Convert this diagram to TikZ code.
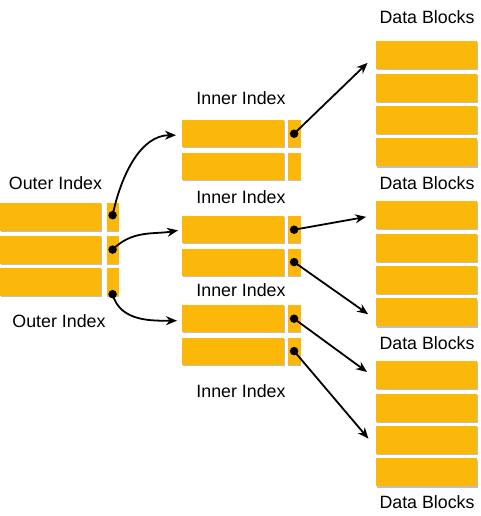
\documentclass[tikz,border=0pt]{standalone}
\usepackage{fontspec}
\setmainfont{Liberation Sans}
\usetikzlibrary{arrows.meta, positioning, shadows}
\definecolor{slotyellow}{RGB}{251,184,10}

\begin{document}
\begin{tikzpicture}[x=1pt, y=1pt, >={Stealth[length=11pt,width=9pt]}]
    \tikzstyle{slot} = [fill=slotyellow, inner sep=0pt,
	drop shadow={shadow xshift=0.8pt, shadow yshift=-1.2pt, fill=black, opacity=0.25}]
    \tikzstyle{oentry} = [slot, minimum width=101pt, minimum height=28pt]
    \tikzstyle{optr} = [slot, minimum width=12pt, minimum height=28pt]
    \tikzstyle{ientry} = [slot, minimum width=102pt, minimum height=27pt]
    \tikzstyle{iptr} = [slot, minimum width=13pt, minimum height=27pt]
    \tikzstyle{block} = [slot, minimum width=101pt, minimum height=28pt]
    \tikzstyle{caption} = [font=\fontsize{17.8}{20}\selectfont, inner sep=0pt]
    \tikzstyle{ptrdot} = [circle, fill=black, minimum size=8.5pt, inner sep=0pt]
    \tikzstyle{link} = [->, line width=1.8pt]

    \useasboundingbox (0,0) rectangle (480,516);

		% outer index
		\path
			node[oentry, anchor=north west] (o1) at (0,313) {}
			node[oentry, below=4pt of o1] (o2) {}
			node[oentry, below=4pt of o2] (o3) {}
			node[optr, right=5pt of o1] (o1p) {}
			node[optr, right=5pt of o2] (o2p) {}
			node[optr, right=5pt of o3] (o3p) {}
			node[caption] (outtop) at (55.5,333) {Outer Index}
			node[caption] (outbot) at (59,195) {Outer Index}
		;

		% inner index
		\path
			node[ientry, anchor=north west] (i1a) at (182,396) {}
			node[ientry, below=5pt of i1a] (i1b) {}
			node[iptr, right=3pt of i1a] (i1ap) {}
			node[iptr, right=3pt of i1b] (i1bp) {}
			node[ientry, anchor=north west] (i2a) at (182,300) {}
			node[ientry, below=5pt of i2a] (i2b) {}
			node[iptr, right=3pt of i2a] (i2ap) {}
			node[iptr, right=3pt of i2b] (i2bp) {}
			node[ientry, anchor=north west] (i3a) at (182,211) {}
			node[ientry, below=5pt of i3a] (i3b) {}
			node[iptr, right=3pt of i3a] (i3ap) {}
			node[iptr, right=3pt of i3b] (i3bp) {}
			node[caption] (in1) at (241,418) {Inner Index}
			node[caption] (in2) at (241,319) {Inner Index}
			node[caption] (in3) at (241,226) {Inner Index}
			node[caption] (in4) at (241,125) {Inner Index}
		;

		% data blocks
		\path
			node[block, anchor=north west] (d11) at (375.5,475) {}
			node[block, below=4pt of d11] (d12) {}
			node[block, below=4pt of d12] (d13) {}
			node[block, below=4pt of d13] (d14) {}
			node[block, anchor=north west] (d21) at (375.5,315) {}
			node[block, below=4pt of d21] (d22) {}
			node[block, below=4pt of d22] (d23) {}
			node[block, below=4pt of d23] (d24) {}
			node[block, anchor=north west] (d31) at (375.5,155) {}
			node[block, below=4pt of d31] (d32) {}
			node[block, below=4pt of d32] (d33) {}
			node[block, below=4pt of d33] (d34) {}
			node[caption] (db1) at (427,499) {Data Blocks}
			node[caption] (db2) at (427,333) {Data Blocks}
			node[caption] (db3) at (427,173) {Data Blocks}
			node[caption] (db4) at (427,14) {Data Blocks}
		;

		\path[link]
			([yshift=2pt]o1p.center) edge[out=78, in=180, shorten >=6pt] ([yshift=-1.5pt]i1a.west)
			(o2p.center) edge[out=45, in=190, shorten >=4pt] (i2a.west)
			([yshift=2pt]o3p.south) edge[out=-75, in=180, shorten >=5pt] ([yshift=-2pt]i3a.west)
			(i1ap.center) edge[shorten >=11pt] (d11.west)
			(i2ap.center) edge[shorten >=9.5pt] (d21.west)
			(i2bp.center) edge[shorten >=9pt] ([yshift=-7pt]d24.west)
			(i3ap.center) edge[shorten >=10.5pt] ([yshift=-3pt]d31.west)
			(i3bp.center) edge[shorten >=11pt] ([yshift=-7pt]d33.west)
		;

		\path
			node[ptrdot] (o1d) at ([yshift=2pt]o1p.center) {}
			node[ptrdot] (o2d) at (o2p.center) {}
			node[ptrdot] (o3d) at ([yshift=2pt]o3p.south) {}
			node[ptrdot] (i1d) at (i1ap.center) {}
			node[ptrdot] (i2d) at (i2ap.center) {}
			node[ptrdot] (i3d) at (i2bp.center) {}
			node[ptrdot] (i4d) at (i3ap.center) {}
			node[ptrdot] (i5d) at (i3bp.center) {}
		;

\end{tikzpicture}
\end{document}
